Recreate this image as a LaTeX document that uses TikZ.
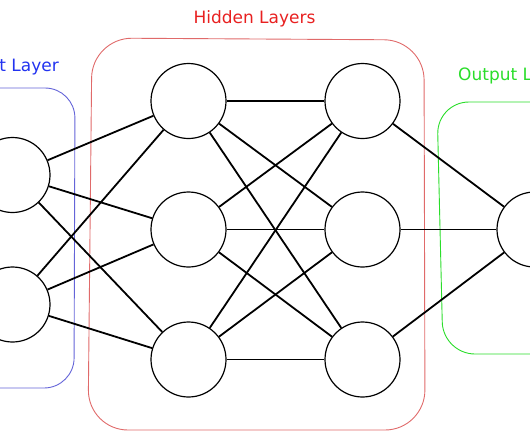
\documentclass[tikz,border=0pt]{standalone}
\usepackage{fontspec}
\setmainfont{DejaVu Sans}
\definecolor{inblue}{HTML}{2233F0}
\definecolor{inboxblue}{HTML}{6464D8}
\definecolor{hidred}{HTML}{E82020}
\definecolor{hidbox}{HTML}{E06A6A}
\definecolor{outgreen}{HTML}{2ADD2A}
\tikzset{
  neuron/.style={circle,draw=black,line width=1.2pt,fill=white,minimum size=75pt,inner sep=0pt},
  link/.style={draw=black,line width=1.8pt},
  layerbox/.style={line width=0.9pt},
  layerlabel/.style={font=\fontsize{17}{20}\selectfont,inner sep=0pt},
}
\begin{document}
\begin{tikzpicture}[x=1pt,y=-1pt]
\useasboundingbox (0,0) rectangle (530,442);
\clip (0,0) rectangle (530,442);
% layer boxes
\draw[layerbox,draw=inboxblue,rounded corners=30pt] (-80,88) -- (75,88) -- (74,388) -- (-80,388);
\draw[layerbox,draw=hidbox,rounded corners=40pt] (92,38) -- (424,40) -- (425,430) -- (88,430) -- cycle;
\draw[layerbox,draw=outgreen,rounded corners=32pt] (600,102) -- (437,102) -- (443,354) -- (600,354);
% labels
\node[layerlabel,text=inblue,anchor=base east] (lin) at (59,71) {Input Layer};
\node[layerlabel,text=hidred,anchor=base] (lhid) at (254.5,23) {Hidden Layers};
\node[layerlabel,text=outgreen,anchor=base west] (lout) at (458,80) {Output Layer};
% neurons
\node[neuron] (i1) at (12.5,175) {};
\node[neuron] (i2) at (12.5,304.5) {};
\node[neuron] (a1) at (188.5,101) {};
\node[neuron] (a2) at (188.5,229.5) {};
\node[neuron] (a3) at (188.5,359.5) {};
\node[neuron] (b1) at (362.5,101) {};
\node[neuron] (b2) at (362.5,229.5) {};
\node[neuron] (b3) at (362.5,359.5) {};
\node[neuron] (o1) at (534.5,229.5) {};
% connections
\foreach \s in {i1,i2}{\foreach \t in {a1,a2,a3}{\draw[link] (\s) -- (\t);}}
\foreach \s in {a1,a2,a3}{\foreach \t in {b1,b2,b3}{\draw[link] (\s) -- (\t);}}
\foreach \s in {b1,b2,b3}{\draw[link] (\s) -- (o1);}
\end{tikzpicture}
\end{document}
